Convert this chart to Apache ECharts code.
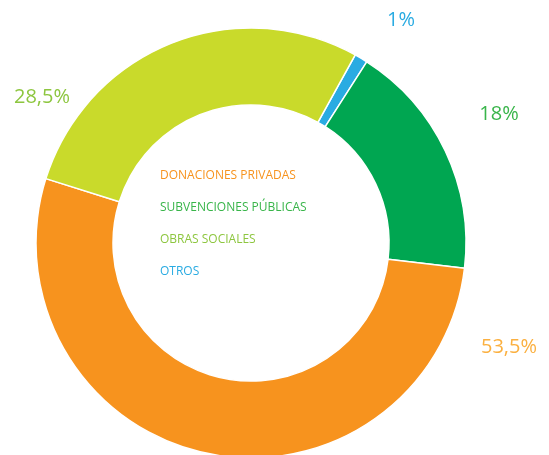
<!DOCTYPE html>
<html>
<head>
<meta charset="utf-8">
<script src="https://cdn.jsdelivr.net/npm/echarts@6/dist/echarts.min.js"></script>
<style>
	html, body { margin: 0; padding: 0; background: #fff; }
	#chart { width: 549px; height: 455px; }
</style>
</head>
<body>
<div id="chart"></div>
<script>
'use strict';
// slice order clockwise from the top
var categories = ['OTROS', 'SUBVENCIONES PÚBLICAS', 'DONACIONES PRIVADAS', 'OBRAS SOCIALES'];
var percents = [1, 18, 53.5, 28.5];
var legendOrder = ['DONACIONES PRIVADAS', 'SUBVENCIONES PÚBLICAS', 'OBRAS SOCIALES', 'OTROS'];

var sliceColors = ['#29abe2', '#00a651', '#f7931e', '#c9da2b'];
var labelColors = ['#29abe2', '#39b54a', '#fbb040', '#8dc63f'];
var legendColors = {
	'DONACIONES PRIVADAS': '#f7931e',
	'SUBVENCIONES PÚBLICAS': '#39b54a',
	'OBRAS SOCIALES': '#8dc63f',
	'OTROS': '#29abe2'
};
// where the percent labels sit (px)
var labelPos = [[401, 20], [499, 114], [509, 347], [42, 97]];

var myChart = echarts.init(document.getElementById('chart'));
var option = {
	animation: false,
	legend: {
		orient: 'vertical',
		left: 150,
		top: 164,
		icon: 'none',
		itemWidth: 0,
		itemHeight: 14,
		itemGap: 19,
		selectedMode: false,
		textStyle: {
			fontFamily: 'Open Sans',
			fontSize: 12
		},
		data: legendOrder.map(function (n) {
			return { name: n, textStyle: { color: legendColors[n] } };
		})
	},
	series: [{
		type: 'pie',
		center: [251, 243],
		radius: [138, 215],
		startAngle: 61,
		clockwise: true,
		avoidLabelOverlap: false,
		itemStyle: {
			borderColor: '#fff',
			borderWidth: 1.5
		},
		label: {
			show: true,
			position: 'outside',
			fontFamily: 'Open Sans',
			fontSize: 20,
			formatter: function (p) {
				return String(p.value).replace('.', ',') + '%';
			}
		},
		labelLine: { show: false },
		labelLayout: function (params) {
			var pos = labelPos[params.dataIndex];
			return { x: pos[0], y: pos[1], align: 'center', verticalAlign: 'middle' };
		},
		data: categories.map(function (c, i) {
			return {
				name: c,
				value: percents[i],
				itemStyle: { color: sliceColors[i] },
				label: { color: labelColors[i] }
			};
		})
	}]
};
myChart.setOption(option);
</script>
</body>
</html>
